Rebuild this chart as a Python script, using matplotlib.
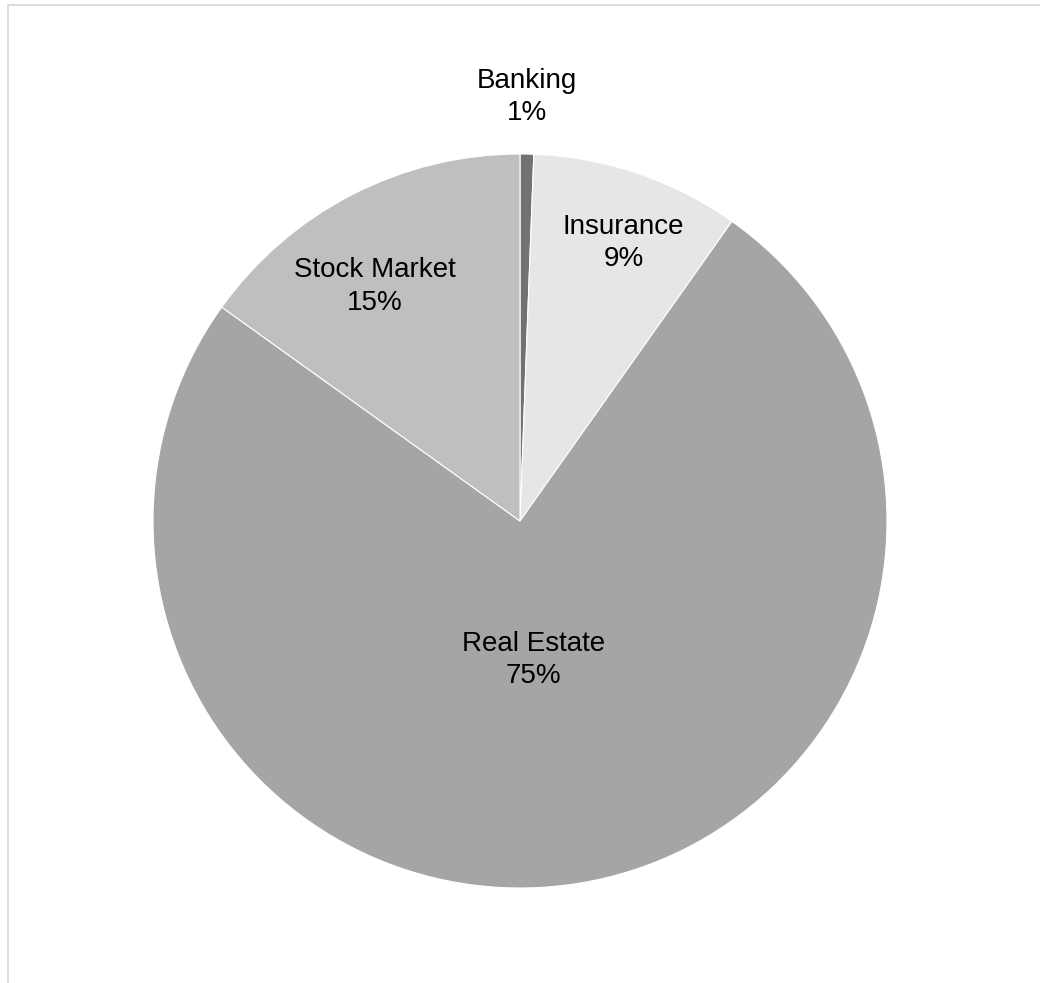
import matplotlib.pyplot as plt
from matplotlib.patches import Rectangle

# sector shares (percent), clockwise from 12 o'clock
sectors = ["Banking", "Insurance", "Real Estate", "Stock Market"]
shares = [0.6, 9.2, 75.1, 15.1]
shown_pct = [1, 9, 75, 15]
colors = ["#767171", "#e7e6e6", "#a5a5a5", "#bfbfbf"]

# label centres in pie units (radius = 1)
label_xy = [(0.018, 1.155), (0.282, 0.758), (0.036, -0.378), (-0.395, 0.639)]

plt.rcParams["font.family"] = ["Liberation Sans", "DejaVu Sans"]

W, H = 1040, 983
fig = plt.figure(figsize=(W / 100, H / 100), dpi=100)

# light grey chart frame, running off the right and bottom edges
frame = Rectangle((7.5 / W, -0.1), 1.2, 1 - 5.5 / H + 0.1, transform=fig.transFigure,
                  fill=False, edgecolor="#d9d9d9", linewidth=1.3)
fig.patches.append(frame)

cx, cy, r = 520, 521, 367
ax = fig.add_axes([(cx - r) / W, (H - cy - r) / H, 2 * r / W, 2 * r / H])
ax.pie(shares, colors=colors, startangle=90, counterclock=False, radius=1,
       wedgeprops=dict(edgecolor="white", linewidth=0.8))
ax.set_xlim(-1, 1)
ax.set_ylim(-1, 1)
ax.axis("off")

for name, pct, (x, y) in zip(sectors, shown_pct, label_xy):
    ax.text(x, y, f"{name}\n{pct}%", ha="center", va="center", fontsize=20,
            linespacing=1.32, color="black", clip_on=False)

fig.savefig("out.png", dpi=100)
